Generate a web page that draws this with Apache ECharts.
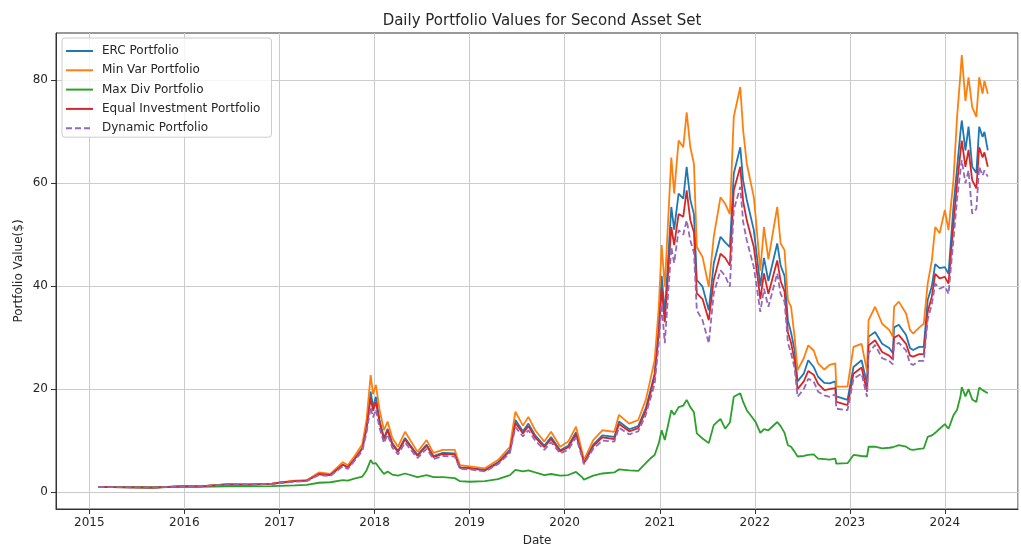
<!DOCTYPE html>
<html>
<head>
<meta charset="utf-8">
<script src="https://cdn.jsdelivr.net/npm/echarts@6/dist/echarts.min.js"></script>
<style>
  html, body { margin: 0; padding: 0; background: #fff; }
</style>
</head>
<body>
<div id="main" style="width: 1021px;height: 548px"></div>
<script type="text/javascript">
    // dates (irregular spacing, denser where the lines move a lot)
    var dates = [
        '2015-02-05','2015-04-01','2015-07-01','2015-09-01','2015-11-01','2016-01-01','2016-03-01','2016-06-15','2016-09-01','2016-12-01',
        '2017-01-01','2017-03-01','2017-04-15','2017-06-01','2017-07-15','2017-09-01','2017-09-20','2017-10-15','2017-11-15','2017-12-01',
        '2017-12-17','2017-12-26','2018-01-06','2018-01-20','2018-02-06','2018-02-20','2018-03-10','2018-04-01','2018-04-28','2018-06-15',
        '2018-07-20','2018-08-15','2018-09-20','2018-11-05','2018-11-25','2019-01-01','2019-03-01','2019-04-20','2019-06-05','2019-06-26',
        '2019-07-25','2019-08-15','2019-09-10','2019-10-15','2019-11-10','2019-12-15','2020-01-15','2020-02-14','2020-03-10','2020-03-15',
        '2020-04-20','2020-05-25','2020-07-10','2020-07-28','2020-09-05','2020-10-10','2020-11-08','2020-11-25','2020-12-12','2020-12-28',
        '2021-01-08','2021-01-20','2021-02-14','2021-02-25','2021-03-14','2021-04-01','2021-04-14','2021-04-28','2021-05-12','2021-05-23',
        '2021-06-14','2021-07-08','2021-07-27','2021-08-22','2021-09-09','2021-09-27','2021-10-12','2021-11-06','2021-11-17','2021-12-01',
        '2021-12-28','2022-01-05','2022-01-22','2022-02-05','2022-02-22','2022-03-28','2022-04-10','2022-04-25','2022-05-08','2022-05-20',
        '2022-06-03','2022-06-14','2022-07-08','2022-07-25','2022-08-15','2022-09-01','2022-09-25','2022-10-15','2022-11-06','2022-11-10',
        '2022-12-23','2023-01-15','2023-02-15','2023-03-08','2023-03-14','2023-04-08','2023-05-05','2023-06-01','2023-06-15','2023-06-20',
        '2023-07-08','2023-08-05','2023-08-20','2023-09-01','2023-09-25','2023-10-12','2023-10-27','2023-11-12','2023-11-25','2023-12-12',
        '2024-01-01','2024-01-15','2024-02-03','2024-02-17','2024-03-01','2024-03-06','2024-03-20','2024-04-01','2024-04-15','2024-05-01',
        '2024-05-12','2024-05-25','2024-06-01','2024-06-14'
    ];

    var erc = [
        1.00,0.95,0.92,0.85,1.00,1.15,1.10,1.50,1.45,1.60,
        1.80,2.10,2.20,3.50,3.30,5.30,4.80,6.30,8.50,12.5,
        19.5,16.5,18.5,14.0,10.5,12.3,9.5,8.0,10.5,7.2,
        9.2,7.0,7.6,7.5,4.8,4.7,4.3,5.8,8.2,14.0,
        11.8,13.3,11.0,9.0,10.7,8.1,9.0,11.6,7.0,5.8,
        9.2,11.0,10.7,13.7,12.2,12.8,16.3,19.6,23.0,32.0,
        42.0,34.7,55.4,51.0,58.0,57.0,63.2,56.8,54.0,41.2,
        39.9,35.3,44.4,49.6,48.5,47.6,61.9,67.0,60.5,56.8,
        50.9,47.5,40.0,45.5,41.0,48.3,44.0,42.0,33.4,31.0,
        27.5,21.5,23.0,25.6,24.3,22.4,21.2,21.1,21.5,18.6,
        17.9,24.3,25.6,21.0,30.2,31.1,28.8,28.0,27.0,32.0,
        32.5,30.5,28.0,27.6,28.2,28.2,37.3,40.0,44.3,43.5,
        43.7,42.4,55.4,63.0,70.0,72.2,66.4,71.0,63.2,62.0,
        71.0,69.0,70.0,66.4
    ];

    var minVar = [
        1.00,0.95,0.92,0.85,1.00,1.15,1.10,1.55,1.50,1.65,
        1.85,2.20,2.30,3.80,3.50,5.80,5.20,6.90,9.30,14.0,
        22.7,19.0,20.8,16.0,12.0,13.7,10.5,8.8,11.7,7.8,
        10.1,7.6,8.2,8.2,5.2,5.0,4.6,6.2,8.8,15.6,
        12.9,14.6,12.0,9.8,11.7,8.8,9.8,12.7,7.5,6.2,
        10.1,12.0,11.7,15.0,13.3,14.0,17.9,21.7,25.6,36.0,
        48.0,39.9,65.0,58.0,68.3,67.0,73.8,67.0,63.8,47.6,
        45.7,39.9,49.6,57.3,56.0,54.0,72.9,78.7,70.3,63.8,
        57.3,53.0,43.0,51.5,45.2,55.4,48.3,47.0,37.3,36.0,
        30.0,23.7,26.0,28.5,27.5,25.0,23.8,24.7,25.0,20.5,
        20.5,28.2,28.8,23.5,33.4,36.0,32.7,31.5,30.2,36.0,
        37.0,34.7,31.5,30.8,32.0,32.7,40.5,45.0,51.5,50.3,
        54.8,50.9,60.6,72.9,81.3,84.9,76.0,80.6,74.8,72.9,
        80.6,77.4,79.9,77.4
    ];

    var maxDiv = [
        1.00,0.96,0.93,0.88,0.95,1.00,1.00,1.10,1.10,1.15,
        1.20,1.30,1.40,1.80,1.90,2.30,2.20,2.60,3.00,4.2,
        6.2,5.5,5.6,4.6,3.5,4.0,3.4,3.2,3.6,2.9,
        3.3,2.9,2.9,2.7,2.1,2.0,2.1,2.5,3.3,4.3,
        4.0,4.2,3.8,3.3,3.5,3.2,3.3,3.9,2.8,2.4,
        3.2,3.6,3.8,4.4,4.2,4.1,5.6,6.5,7.2,9.5,
        12.0,10.1,15.9,15.0,16.5,16.8,17.9,16.5,15.5,11.4,
        10.4,9.5,13.0,14.2,12.3,13.5,18.5,19.2,17.5,15.9,
        14.1,13.5,11.5,12.2,12.0,13.6,12.8,11.5,9.1,8.8,
        7.8,6.9,7.0,7.2,7.3,6.5,6.4,6.3,6.5,5.5,
        5.6,7.2,7.0,6.9,8.8,8.8,8.5,8.6,8.7,9.0,
        9.1,8.8,8.3,8.2,8.4,8.5,10.7,11.0,11.5,12.3,
        13.2,12.3,14.9,16.0,18.6,20.4,18.6,20.0,18.0,17.5,
        20.3,19.8,20.0,19.2
    ];

    var equalInv = [
        1.00,0.95,0.92,0.85,1.00,1.15,1.10,1.50,1.45,1.60,
        1.80,2.10,2.20,3.50,3.30,5.30,4.80,6.30,8.50,12.3,
        18.3,15.8,17.5,13.5,10.2,12.0,9.2,7.8,10.2,7.0,
        9.0,6.8,7.4,7.3,4.7,4.6,4.2,5.6,8.0,13.4,
        11.4,12.8,10.6,8.7,10.3,7.9,8.7,11.2,6.8,5.6,
        8.9,10.6,10.3,13.2,11.8,12.4,15.8,19.0,22.5,31.0,
        39.5,33.0,51.5,48.0,54.0,53.5,58.6,52.8,50.5,38.6,
        37.5,33.4,41.2,46.3,45.5,44.0,58.6,63.2,56.5,52.8,
        47.6,44.5,37.5,42.5,38.5,45.0,41.0,39.0,31.0,29.0,
        25.5,20.0,21.5,23.5,22.8,21.0,19.8,20.0,20.2,17.5,
        16.9,23.0,24.2,19.5,28.5,29.5,27.2,26.5,25.8,30.0,
        30.5,28.8,26.5,26.3,26.8,26.8,35.0,38.0,42.4,41.5,
        41.8,40.5,52.0,60.0,66.0,68.3,63.2,66.5,60.6,59.0,
        67.0,65.0,66.0,63.2
    ];

    var dynamic = [
        1.00,0.95,0.92,0.85,1.00,1.15,1.10,1.50,1.45,1.60,
        1.75,2.00,2.10,3.30,3.10,5.00,4.50,6.00,8.00,11.5,
        16.5,14.5,16.0,12.5,9.5,11.2,8.6,7.3,9.6,6.6,
        8.4,6.4,7.0,6.9,4.5,4.4,4.0,5.4,7.6,12.6,
        10.8,12.0,10.0,8.2,9.7,7.5,8.2,10.6,6.5,5.4,
        8.4,10.0,9.8,12.5,11.2,11.8,15.0,18.0,21.0,29.0,
        36.5,28.9,47.6,44.5,50.9,50.0,52.8,48.9,46.5,35.3,
        33.4,28.9,38.6,43.1,42.0,39.9,54.8,59.3,52.5,48.9,
        43.7,41.0,35.0,39.5,36.0,42.5,38.5,37.0,29.0,27.0,
        24.0,18.5,20.0,22.0,21.5,19.5,18.8,18.5,19.0,16.2,
        15.9,22.0,23.0,18.5,27.0,28.6,26.0,25.5,24.8,28.5,
        29.0,27.5,25.0,24.7,25.5,25.5,33.5,36.5,40.5,39.5,
        40.0,38.5,49.0,57.0,62.5,64.5,60.0,62.5,54.1,55.0,
        63.2,61.5,62.5,61.3
    ];

    var yTicks = [0, 20, 40, 60, 80];

    function pairs(vals) {
        return dates.map(function (d, i) { return [d, vals[i]]; });
    }

    function line(name, vals, color, dashed) {
        return {
            name: name,
            type: 'line',
            data: pairs(vals),
            showSymbol: false,
            symbol: 'none',
            lineStyle: { color: color, width: 1.8, type: dashed ? [6, 3] : 'solid' },
            itemStyle: { color: color },
            emphasis: { disabled: true }
        };
    }

    var font = 'DejaVu Sans';
    var txt = '#262626';

    var myChart = echarts.init(document.getElementById('main'));

    var option = {
        animation: false,
        backgroundColor: '#fff',
        textStyle: { fontFamily: font },
        title: {
            text: 'Daily Portfolio Values for Second Asset Set',
            left: 537,
            top: 9,
            textAlign: 'center',
            textStyle: { fontFamily: font, fontSize: 15, fontWeight: 'normal', color: txt }
        },
        // axis titles
        graphic: [
            {
                type: 'text', x: 18.5, y: 271, rotation: Math.PI / 2,
                style: { text: 'Portfolio Value($)', fontFamily: font, fontSize: 12, fill: txt, align: 'center', verticalAlign: 'middle' }
            },
            {
                type: 'text', x: 537, y: 541,
                style: { text: 'Date', fontFamily: font, fontSize: 12, fill: txt, align: 'center', verticalAlign: 'middle' }
            }
        ],
        legend: {
            orient: 'vertical',
            left: 62,
            top: 38,
            padding: [7, 11, 3, 3],
            itemGap: 7.3,
            itemWidth: 27,
            itemHeight: 12,
            backgroundColor: 'rgba(255,255,255,0.8)',
            borderColor: '#cccccc',
            borderWidth: 1,
            borderRadius: 3,
            itemStyle: { opacity: 0 },
            textStyle: { fontFamily: font, fontSize: 12, color: txt, padding: [0, 0, 0, 4] },
            data: ['ERC Portfolio', 'Min Var Portfolio', 'Max Div Portfolio', 'Equal Investment Portfolio', 'Dynamic Portfolio']
        },
        grid: {
            left: 56,
            right: 3,
            top: 33,
            bottom: 39,
            show: true,
            borderColor: '#333',
            borderWidth: 1,
            containLabel: false
        },
        xAxis: {
            type: 'time',
            min: '2014-08-26',
            max: '2024-10-08',
            splitNumber: 10,
            axisLine: { show: true, onZero: false, lineStyle: { color: '#333', width: 1 } },
            axisTick: { show: true, length: 5, inside: false, lineStyle: { color: '#333' } },
            axisLabel: { formatter: '{yyyy}', fontFamily: font, fontSize: 12, color: txt, margin: 8, hideOverlap: false },
            splitLine: { show: true, lineStyle: { color: '#cbcbcb', width: 1 } },
            minorTick: { show: false }
        },
        yAxis: {
            type: 'value',
            min: -3.3,
            max: 89.2,
            splitNumber: 5,
            axisLine: { show: true, onZero: false, lineStyle: { color: '#333', width: 1 } },
            axisTick: { show: true, length: 5, inside: false, customValues: yTicks, lineStyle: { color: '#333' } },
            axisLabel: {
                fontFamily: font, fontSize: 12, color: txt, margin: 8,
                customValues: yTicks
            },
            splitLine: { show: true, lineStyle: { color: '#cbcbcb', width: 1 } }
        },
        series: [
            line('ERC Portfolio', erc, '#1f77b4', false),
            line('Min Var Portfolio', minVar, '#ff7f0e', false),
            line('Max Div Portfolio', maxDiv, '#2ca02c', false),
            line('Equal Investment Portfolio', equalInv, '#d62728', false),
            line('Dynamic Portfolio', dynamic, '#9467bd', true)
        ]
    };

    myChart.setOption(option);
</script>
</body>
</html>
